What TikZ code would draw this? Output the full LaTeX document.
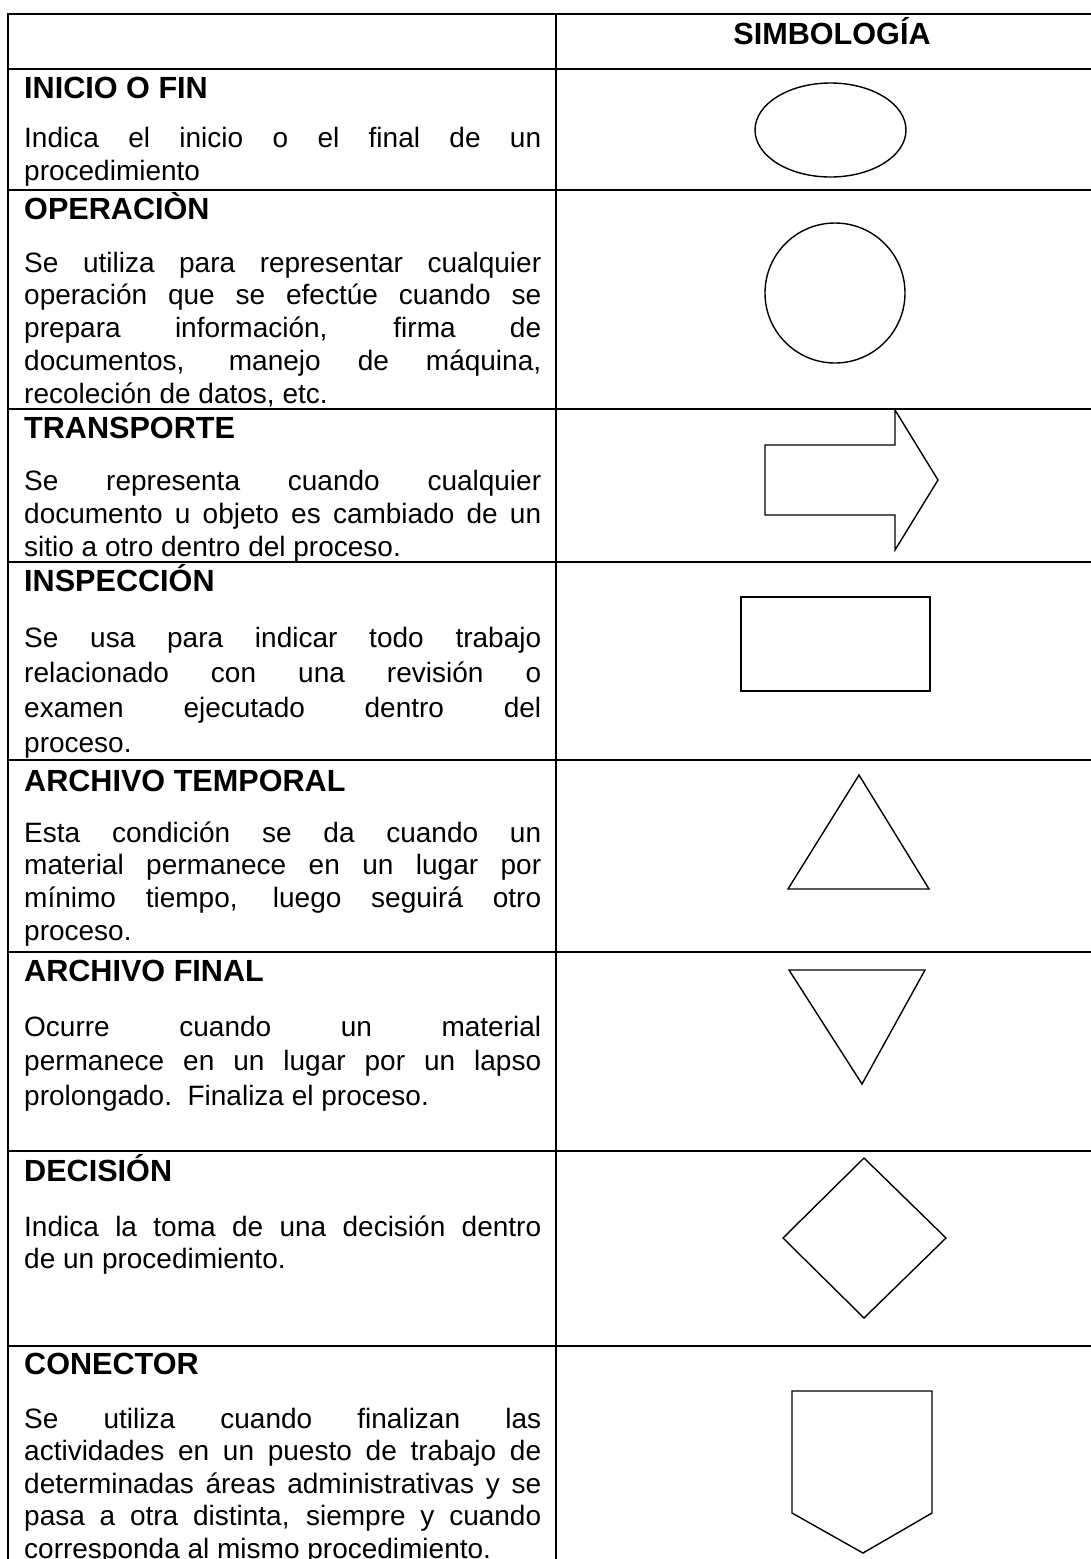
\documentclass[tikz,border=0pt]{standalone}
\usepackage{fontspec}
\setmainfont{Liberation Sans}
\newcommand\jl[1]{\makebox[517pt][s]{#1}\\}
\newcommand\bodytext[2]{\parbox[t]{517pt}{\fontsize{28}{#1}\selectfont #2}}
\begin{document}
\begin{tikzpicture}[x=1pt,y=-1pt,
  grid/.style={line width=2.6pt, line cap=rect},
  symb/.style={draw, line width=1.4pt, line join=miter},
  ttl/.style={anchor=base west, inner sep=0pt, font=\fontsize{30.6}{33}\selectfont\bfseries},
  hdr/.style={anchor=base, inner sep=0pt, font=\fontsize{30.6}{33}\selectfont\bfseries},
  body/.style={anchor=base west, inner sep=0pt}]
\useasboundingbox (0,0) rectangle (1091,1559);
\fill[white] (0,0) rectangle (1091,1559);

% table grid
\foreach \yy in {14,69,190,409,562,760,952,1151,1346}
  \draw[grid] (8,\yy) -- (1100,\yy);
\draw[grid] (8,14) -- (8,1575);
\draw[grid] (556,14) -- (556,1575);

% header
\node[hdr] (h) at (832,44) {SIMBOLOGÍA};

% row 1
\node[ttl] (t1) at (24,98) {INICIO O FIN};
\node[body] (b1) at (24,147) {\bodytext{33}{\jl{Indica el inicio o el final de un}procedimiento}};
\draw[symb] (830.5,130) ellipse [x radius=75.5pt, y radius=47pt];

% row 2
\node[ttl] (t2) at (24,219) {OPERACIÒN};
\node[body] (b2) at (24,272) {\bodytext{32.75}{\jl{Se utiliza para representar cualquier}\jl{operación que se efectúe cuando se}\jl{prepara información, firma de}\jl{documentos, manejo de máquina,}recoleción de datos, etc.}};
\draw[symb] (835,293) circle [radius=70pt];

% row 3
\node[ttl] (t3) at (24,438) {TRANSPORTE};
\node[body] (b3) at (24,490) {\bodytext{33}{\jl{Se representa cuando cualquier}\jl{documento u objeto es cambiado de un}sitio a otro dentro del proceso.}};
\draw[symb] (765,445) -- (895,445) -- (895,410) -- (938,480) -- (895,550) -- (895,515) -- (765,515) -- cycle;

% row 4
\node[ttl] (t4) at (24,591) {INSPECCIÓN};
\node[body] (b4) at (24,647) {\bodytext{35}{\jl{Se usa para indicar todo trabajo}\jl{relacionado con una revisión o}\jl{examen ejecutado dentro del}proceso.}};
\draw[symb] (741,597) rectangle (930,691);

% row 5
\node[ttl] (t5) at (24,791) {ARCHIVO TEMPORAL};
\node[body] (b5) at (24,842) {\bodytext{32.7}{\jl{Esta condición se da cuando un}\jl{material permanece en un lugar por}\jl{mínimo tiempo, luego seguirá otro}proceso.}};
\draw[symb] (859,775) -- (929,889) -- (788,889) -- cycle;

% row 6
\node[ttl] (t6) at (24,981) {ARCHIVO FINAL};
\node[body] (b6) at (24,1036) {\bodytext{34.5}{\jl{Ocurre cuando un material}\jl{permanece en un lugar por un lapso}prolongado.\ \ Finaliza el proceso.}};
\draw[symb] (789,970) -- (925,970) -- (862,1084) -- cycle;

% row 7
\node[ttl] (t7) at (24,1181) {DECISIÓN};
\node[body] (b7) at (24,1236) {\bodytext{32}{\jl{Indica la toma de una decisión dentro}de un procedimiento.}};
\draw[symb] (864,1158) -- (946,1238) -- (864,1318) -- (783,1238) -- cycle;

% row 8
\node[ttl] (t8) at (24,1374) {CONECTOR};
\node[body] (b8) at (24,1428) {\bodytext{32.5}{\jl{Se utiliza cuando finalizan las}\jl{actividades en un puesto de trabajo de}\jl{determinadas áreas administrativas y se}\jl{pasa a otra distinta, siempre y cuando}corresponda al mismo procedimiento.}};
\draw[symb] (792,1391) -- (932,1391) -- (932,1513) -- (863,1553) -- (792,1513) -- cycle;
\end{tikzpicture}
\end{document}
